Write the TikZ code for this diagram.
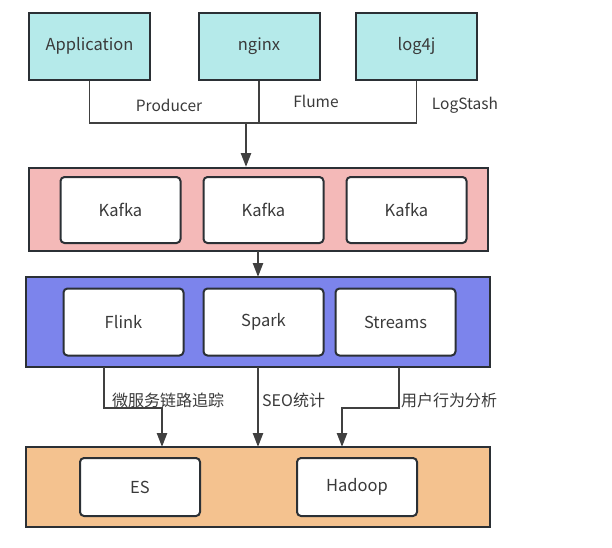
\documentclass[tikz,border=0pt]{standalone}
\usepackage{fontspec}
\setmainfont{Noto Sans CJK SC}
\usetikzlibrary{arrows.meta}
\definecolor{edge}{HTML}{2B3035}
\definecolor{txt}{HTML}{3A3A3A}
\definecolor{cyanfill}{HTML}{B5EAEA}
\definecolor{pinkfill}{HTML}{F4B9B8}
\definecolor{bluefill}{HTML}{7C84EC}
\definecolor{orangefill}{HTML}{F4C28F}
\definecolor{lineclr}{HTML}{404040}
\tikzset{
  srcbox/.style={draw=edge, line width=2pt, fill=cyanfill, minimum width=121pt, minimum height=67pt, inner sep=0pt, text=txt, font=\fontsize{16.5}{19}\selectfont},
  layerbox/.style={draw=edge, line width=2pt, minimum width=464pt, inner sep=0pt},
  itembox/.style={draw=edge, line width=2pt, fill=white, rounded corners=4pt, minimum width=120pt, minimum height=66pt, inner sep=0pt, text=txt, font=\fontsize{16.5}{19}\selectfont},
  thinline/.style={draw=lineclr, line width=1.6pt},
  arrowline/.style={draw=lineclr, line width=2.4pt, -{Triangle[length=14pt,width=10pt]}},
  lbl/.style={text=txt, font=\fontsize{15.5}{18}\selectfont, inner sep=0pt},
  cjklbl/.style={text=txt, font=\fontsize{16}{19}\selectfont, inner sep=0pt},
}
\begin{document}
\begin{tikzpicture}[x=1pt,y=-1pt]
\useasboundingbox (0,0) rectangle (612,547);
% sources
\node[srcbox] (app) at (89.5,46) {Application};
\node[srcbox] (ngx) at (259,46) {nginx};
\node[srcbox] (log) at (416.5,46) {log4j};
% layers
\node[layerbox, fill=pinkfill, minimum width=459pt, minimum height=83pt] (pink) at (258.5,209.5) {};
\node[itembox] (k1) at (120.5,210) {Kafka};
\node[itembox] (k2) at (263.5,210) {Kafka};
\node[itembox] (k3) at (406.5,210) {Kafka};
\node[layerbox, fill=bluefill, minimum width=464.5pt, minimum height=90pt] (blue) at (257.75,322) {};
\node[itembox, minimum height=67pt] (flink) at (123.5,322) {Flink};
\node[itembox, minimum height=67pt] (spark) at (263.5,322) {Spark};
\node[itembox, minimum height=67pt] (streams) at (395.5,322) {Streams};
\node[layerbox, fill=orangefill, minimum width=464.5pt, minimum height=80pt] (orange) at (257.75,487) {};
\node[itembox, minimum height=58pt] (es) at (140,487) {ES};
\node[itembox, minimum height=58pt] (hadoop) at (357,487) {Hadoop};
% top connectors
\coordinate (busl) at (89.5,123);
\coordinate (busr) at (416.5,123);
\coordinate (busm) at (259,123);
\coordinate (busa) at (246,123);
\draw[thinline] (app.south) -- (busl) -- (busr) -- (log.south);
\draw[thinline] (ngx.south) -- (busm);
\draw[arrowline] (busa) -- (busa |- pink.north);
\node[lbl] (lp) at (169,105) {Producer};
\node[lbl] (lf) at (316,101) {Flume};
\node[lbl] (ll) at (465,105) {LogStash};
% kafka -> processing
\draw[arrowline] (258,251) -- (258,277);
% processing -> storage
\coordinate (s1) at (104,367);
\coordinate (m1) at (162,408);
\coordinate (e1) at (162,447);
\coordinate (s2) at (258,367);
\coordinate (e2) at (258,447);
\coordinate (s3) at (399,367);
\coordinate (m3) at (342,408);
\coordinate (e3) at (342,447);
\draw[arrowline] (s1) |- (m1) -- (e1);
\draw[arrowline] (s2) -- (e2);
\draw[arrowline] (s3) |- (m3) -- (e3);
\node[cjklbl, anchor=west] (l1) at (112,400) {微服务链路追踪};
\node[cjklbl, anchor=west] (l2) at (262,400) {SEO统计};
\node[cjklbl, anchor=west] (l3) at (401,400) {用户行为分析};
\end{tikzpicture}
\end{document}
